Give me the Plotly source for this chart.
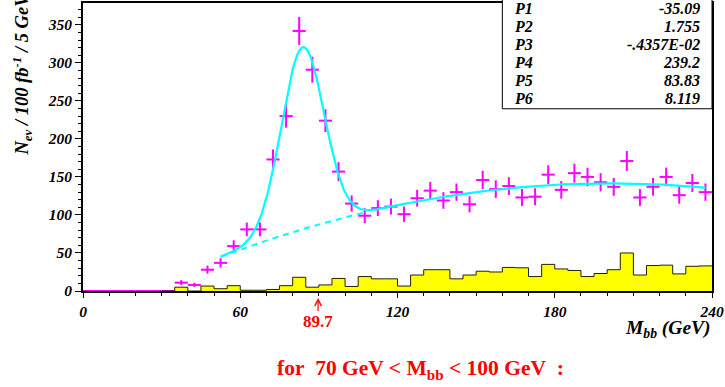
import numpy as np
import plotly.graph_objects as go

# ---- data -------------------------------------------------------------
bin_width = 5.0

# observed events per 5 GeV bin, bins 0-5 ... 235-240 GeV
data_counts = [0, 0, 0, 0, 0, 0, 0,
               11, 8, 28, 37, 59, 81, 81, 173, 230, 342, 291, 224, 157,
               115, 99, 109, 111, 101, 122, 132, 119, 130, 114, 146, 134,
               138, 123, 124, 153, 133, 155, 150, 143, 137, 171, 123, 137,
               150, 126, 142, 130]

# second sample (yellow histogram), bins 30-35 ... 235-240 GeV
hist_start = 30.0
hist_counts = [0, 5, 0, 6.5, 3, 7, 1, 1, 2, 7, 18, 5, 8, 16.5, 6, 19, 16, 16,
               6.5, 21, 28, 28, 16, 21, 26, 25, 31, 30.5, 19, 35, 29, 27, 19,
               23, 28, 50, 21, 33.5, 34, 22.5, 32.5, 33]

# fit: P1 + P2*x + P3*x^2 + P4*exp(-0.5*((x-P5)/P6)^2)
param_names = ["P1", "P2", "P3", "P4", "P5", "P6"]
param_values = [-35.09, 1.755, -0.4357e-02, 239.2, 83.83, 8.119]
param_labels = ["-35.09", "1.755", "-.4357E-02", "239.2", "83.83", "8.119"]

fit_range = (52.5, 237.5)
bkg_dash_range = (52.5, 107.5)
marker_mass = 89.7

x_ticks = [0, 60, 120, 180, 240]
y_ticks = [0, 50, 100, 150, 200, 250, 300, 350]

# ---- layout helpers (pixel -> paper) ----------------------------------
W, H = 725, 387
L, R, T, B = 83, 12, 1, 96
PW, PH = W - L - R, H - T - B


def px_x(p):
    return (p - L) / PW


def px_y(p):
    return (H - B - p) / PH


SERIF = "Liberation Serif"
MAGENTA = "#FF00FF"
CYAN = "#00FFFF"


def fit_total(x):
    p1, p2, p3, p4, p5, p6 = param_values
    return p1 + p2 * x + p3 * x ** 2 + p4 * np.exp(-0.5 * ((x - p5) / p6) ** 2)


def fit_bkg(x):
    p1, p2, p3 = param_values[:3]
    return p1 + p2 * x + p3 * x ** 2


# ---- traces -----------------------------------------------------------
centres = [bin_width * (i + 0.5) for i in range(len(data_counts))]
errors = [float(np.sqrt(c)) for c in data_counts]

fig = go.Figure()

fig.add_trace(go.Scatter(
    x=centres, y=data_counts, mode="markers",
    marker=dict(size=1, color=MAGENTA),
    error_x=dict(type="constant", value=bin_width / 2, color=MAGENTA,
                 thickness=2, width=0),
    error_y=dict(type="data", array=errors, color=MAGENTA,
                 thickness=2, width=0),
    hoverinfo="skip", showlegend=False))

edges = [hist_start + bin_width * i for i in range(len(hist_counts) + 1)]
fig.add_trace(go.Scatter(
    x=edges, y=hist_counts + [hist_counts[-1]], mode="lines",
    line=dict(shape="hv", color="#222200", width=1),
    fill="tozeroy", fillcolor="#FFFF00",
    hoverinfo="skip", showlegend=False))

xb = np.linspace(bkg_dash_range[0], bkg_dash_range[1], 200)
fig.add_trace(go.Scatter(
    x=xb, y=fit_bkg(xb), mode="lines",
    line=dict(color=CYAN, width=2, dash="6px,5px"),
    hoverinfo="skip", showlegend=False))

xf = np.linspace(fit_range[0], fit_range[1], 600)
fig.add_trace(go.Scatter(
    x=xf, y=fit_total(xf), mode="lines",
    line=dict(color=CYAN, width=2.2),
    hoverinfo="skip", showlegend=False))

# ---- axes -------------------------------------------------------------
tick_font = dict(family=SERIF, size=15.5, color="black",
                 weight="bold", style="italic")

fig.update_xaxes(
    range=[0, 240], tickvals=x_ticks, ticktext=[str(v) for v in x_ticks],
    ticks="outside", ticklen=5, tickwidth=1, tickcolor="black",
    minor=dict(dtick=10, ticks="outside", ticklen=3, tickcolor="black"),
    showline=True, linewidth=2, linecolor="black", mirror=True,
    showgrid=False, zeroline=False, tickfont=tick_font)

fig.update_yaxes(
    range=[0, PH * 350 / 268], tickvals=y_ticks,
    ticktext=[str(v) for v in y_ticks],
    ticks="outside", ticklen=6, tickwidth=1, tickcolor="black",
    minor=dict(dtick=10, ticks="outside", ticklen=3, tickcolor="black"),
    showline=True, linewidth=2, linecolor="black", mirror=True,
    showgrid=False, zeroline=False, tickfont=tick_font)

# ---- annotations ------------------------------------------------------
ann = []

ann.append(dict(
    text="<b><i>N<sub>ev</sub> / 100 fb<sup>-1</sup> / 5 GeV</i></b>",
    xref="paper", yref="paper", x=px_x(22), y=px_y(157),
    xanchor="center", yanchor="bottom", textangle=-90, showarrow=False,
    font=dict(family=SERIF, size=18.5, color="black")))

ann.append(dict(
    text="<b><i>M<sub>bb</sub> (GeV)</i></b>",
    xref="paper", yref="paper", x=px_x(714), y=px_y(315),
    xanchor="right", yanchor="top", showarrow=False,
    font=dict(family=SERIF, size=19.5, color="black")))

# marker arrow with its value underneath
ann.append(dict(
    text="<b>%.1f</b>" % marker_mass, xref="x", yref="paper",
    x=marker_mass, y=px_y(298), ax=0, ay=24,
    showarrow=True, arrowhead=5, arrowsize=1.1, arrowwidth=1.2,
    arrowcolor="red", standoff=0, startstandoff=0,
    font=dict(family=SERIF, size=17, color="red")))

ann.append(dict(
    text="<b>for&nbsp;&nbsp;70 GeV &lt; M<sub>bb</sub> &lt; 100 GeV&nbsp;&nbsp;:</b>",
    xref="paper", yref="paper", x=px_x(421), y=px_y(370),
    xanchor="center", yanchor="middle", showarrow=False,
    font=dict(family=SERIF, size=21.5, color="red")))

# fit-parameter box
box_font = dict(family=SERIF, size=16, color="black",
                weight="bold", style="italic")
for i, (name, label) in enumerate(zip(param_names, param_labels)):
    yy = px_y(7 + 18.1 * i)
    ann.append(dict(text=name, xref="paper", yref="paper", x=px_x(513),
                    y=yy, xanchor="left", yanchor="middle",
                    showarrow=False, font=box_font))
    ann.append(dict(text=label, xref="paper", yref="paper", x=px_x(703),
                    y=yy, xanchor="right", yanchor="middle",
                    showarrow=False, font=box_font))

shapes = [dict(type="rect", xref="paper", yref="paper",
               x0=px_x(503), x1=1.0, y0=px_y(107.5), y1=1.02,
               line=dict(color="black", width=1), fillcolor="white",
               layer="above")]

fig.update_layout(
    width=W, height=H, margin=dict(l=L, r=R, t=T, b=B),
    paper_bgcolor="white", plot_bgcolor="white",
    annotations=ann, shapes=shapes, showlegend=False)

fig.write_html("out.html")
